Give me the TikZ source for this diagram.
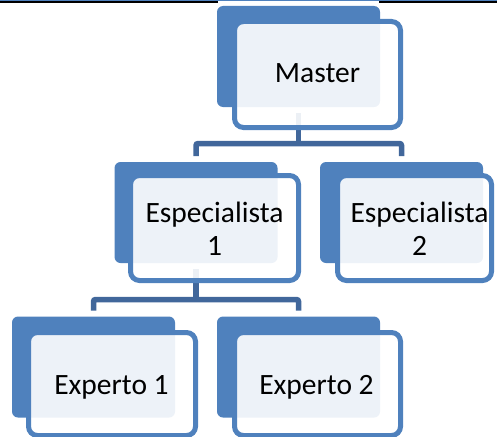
\documentclass[tikz,border=0pt]{standalone}
\usepackage{fontspec}
\setmainfont{Carlito}
\usetikzlibrary{backgrounds}
\definecolor{accent}{HTML}{4F81BD}
\definecolor{connc}{HTML}{41679B}
\begin{document}
\begin{tikzpicture}[x=1pt,y=-1pt,
  backbox/.style={fill=accent, rounded corners=6pt, inner sep=0pt, outer sep=0pt, minimum width=163pt, minimum height=101pt},
  frontbox/.style={draw=accent, line width=5pt, fill=white, fill opacity=0.9, rounded corners=9pt, inner sep=0pt, outer sep=0pt, minimum width=166pt, minimum height=106pt},
  lbl/.style={font=\fontsize{29.5}{33}\selectfont, align=center, inner sep=0pt, anchor=base},
  conn/.style={draw=connc, line width=5.5pt}]
\useasboundingbox (0,0) rectangle (497,436);
\clip (0,0) rectangle (497,436);
% top page rule
\fill[accent] (0,0) rectangle (497,0.9);
\fill[black] (0,0.9) rectangle (218,3.2);
\fill[black] (379,0.9) rectangle (497,3.2);
% back boxes
\node[backbox] (mback) at (298.5,56.5) {};
\node[backbox] (e1back) at (196,212.5) {};
\node[backbox] (e2back) at (401.5,212.5) {};
\node[backbox] (x1back) at (93.5,367) {};
\node[backbox] (x2back) at (298.5,367) {};
% connectors (beneath the boxes)
\coordinate (j1) at (298.5,143.5);
\coordinate (j2) at (196,299.5);
\begin{scope}[on background layer]
  \draw[conn, shorten <=6pt] (mback.south) -- (j1);
  \draw[conn, rounded corners=2pt, shorten <=6pt, shorten >=6pt] (e1back.north) |- (j1) -| (e2back.north);
  \draw[conn, shorten <=6pt] (e1back.south) -- (j2);
  \draw[conn, rounded corners=2pt, shorten <=6pt, shorten >=6pt] (x1back.north) |- (j2) -| (x2back.north);
\end{scope}
% front boxes
\node[frontbox] (master) at (317.5,74.5) {};
\node[frontbox, minimum width=168pt, minimum height=105pt] (esp1) at (214.5,228) {};
\node[frontbox, minimum width=154pt, minimum height=105pt] (esp2) at (414.5,228) {};
\node[frontbox, minimum width=167pt, minimum height=103pt] (exp1) at (112,384) {};
\node[frontbox, minimum height=103pt] (exp2) at (317.5,384) {};
% labels
\node[lbl] (tmaster) at (317.5,82.7) {Master};
\node[lbl] (tesp1) at (214.5,255) {Especialista\\1};
\node[lbl] (tesp2) at (419.5,255) {Especialista\\2};
\node[lbl] (texp1) at (111.5,394) {Experto 1};
\node[lbl] (texp2) at (316.5,394) {Experto 2};
\end{tikzpicture}
\end{document}
